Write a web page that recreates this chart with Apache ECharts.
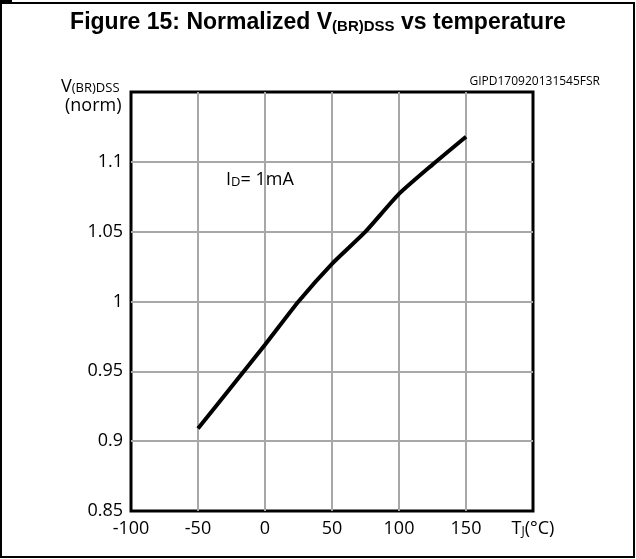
<!DOCTYPE html>
<html>
<head>
<meta charset="utf-8">
<script src="https://cdn.jsdelivr.net/npm/echarts@6/dist/echarts.min.js"></script>
<style>
  html, body { margin: 0; padding: 0; background: #fff; }
  #chart { width: 636px; height: 559px; }
</style>
</head>
<body>
<div id="chart"></div>
<script>
// temperature (°C) vs normalized breakdown voltage
const temps = [-50, -25, 0, 25, 50, 75, 100, 125, 150]
const vbrNorm = [0.909, 0.939, 0.969, 1.0, 1.027, 1.05, 1.077, 1.098, 1.118]
const yTicks = [0.85, 0.9, 0.95, 1, 1.05, 1.1]

const font = '"Open Sans", sans-serif'
const chart = echarts.init(document.getElementById('chart'))

chart.setOption({
  animation: false,
  backgroundColor: '#fff',
  grid: {
    left: 131, right: 103, top: 92, bottom: 48,
    show: true, borderColor: '#000', borderWidth: 3,
  },
  xAxis: {
    type: 'value', min: -100, max: 200, interval: 50,
    axisLine: { show: false },
    axisTick: { show: false },
    splitLine: { showMinLine: false, showMaxLine: false, lineStyle: { color: '#a8a8a8', width: 2 } },
    axisLabel: {
      margin: 9, fontFamily: font, fontSize: 18, color: '#000',
      formatter: v => v === 200 ? '{t|T}{s|J}{t|(°C)}' : String(v),
      rich: {
        t: { fontFamily: font, fontSize: 18, color: '#000' },
        s: { fontFamily: font, fontSize: 12, color: '#000', padding: [6, 0, 0, 0] },
      },
    },
  },
  yAxis: {
    type: 'value', min: 0.85, max: 1.15, interval: 0.05,
    axisLine: { show: false },
    axisTick: { show: false },
    splitLine: { showMinLine: false, showMaxLine: false, lineStyle: { color: '#a8a8a8', width: 2 } },
    axisLabel: {
      margin: 8, fontFamily: font, fontSize: 18, color: '#000',
      formatter: v => {
        const r = +v.toFixed(2)
        return yTicks.includes(r) ? String(r) : ''
      },
    },
  },
  graphic: [
    { type: 'rect', shape: { x: 1, y: 3, width: 633, height: 554 },
      style: { fill: 'none', stroke: '#000', lineWidth: 2 } },
    { type: 'rect', shape: { x: 0, y: 0, width: 12, height: 3 }, style: { fill: '#000' } },
    { type: 'text', left: 'center', top: 11,
      style: {
        text: '{b|Figure 15: Normalized V}{s|(BR)DSS}{b| vs temperature}',
        rich: {
          b: { fontFamily: '"Liberation Sans", Arial', fontWeight: 'bold', fontSize: 23, fill: '#000' },
          s: { fontFamily: '"Liberation Sans", Arial', fontWeight: 'bold', fontSize: 15, fill: '#000', padding: [9, 0, 0, 0] },
        },
      } },
    { type: 'text', right: 36, top: 76,
      style: { text: 'GIPD170920131545FSR', fontFamily: font, fontSize: 12, fill: '#000' } },
    { type: 'text', left: 61, top: 78,
      style: {
        text: '{v|V}{s|(BR)DSS}',
        rich: {
          v: { fontFamily: font, fontSize: 18, fill: '#000' },
          s: { fontFamily: font, fontSize: 13, fill: '#000', padding: [3, 0, 0, 0] },
        },
      } },
    { type: 'text', left: 65, top: 97,
      style: { text: '(norm)', fontFamily: font, fontSize: 18, fill: '#000' } },
    { type: 'text', left: 226, top: 171,
      style: {
        text: '{v|I}{s|D}{v|= 1mA}',
        rich: {
          v: { fontFamily: font, fontSize: 18, fill: '#000' },
          s: { fontFamily: font, fontSize: 13, fill: '#000', padding: [5, 0, 0, 0] },
        },
      } },
  ],
  series: [{
    type: 'line',
    data: temps.map((t, i) => [t, vbrNorm[i]]),
    showSymbol: false,
    smooth: 0.2,
    lineStyle: { color: '#000', width: 4 },
  }],
})
</script>
</body>
</html>
